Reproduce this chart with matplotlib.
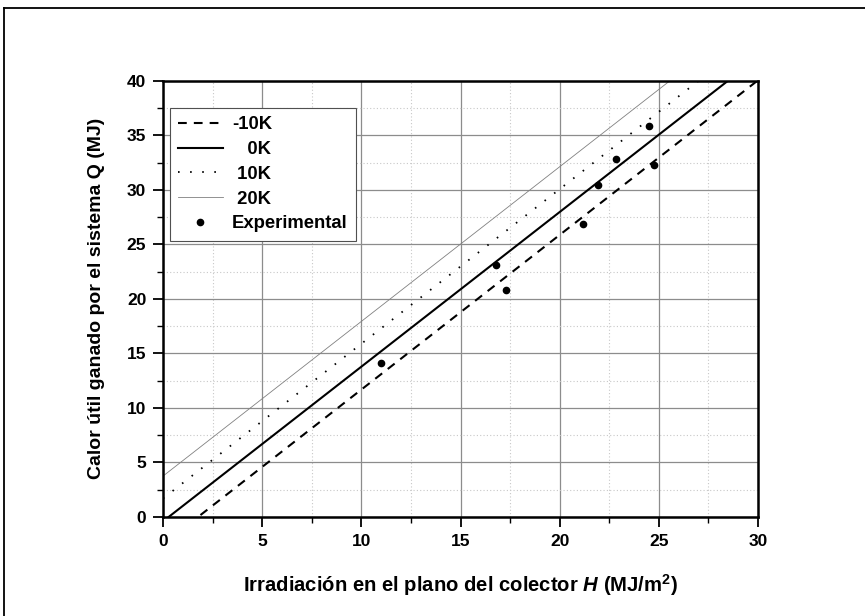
import matplotlib
matplotlib.use("Agg")
import matplotlib.pyplot as plt
import numpy as np
from matplotlib.lines import Line2D
from matplotlib.ticker import MultipleLocator

# ---------------- data ----------------
series_labels = ["-10K", "   0K", " 10K", " 20K"]
slope = 1.418
intercepts = [-2.5, -0.4, 1.7, 3.75]
H_range = [0, 30]

exp_H = [10.98, 16.79, 17.30, 21.17, 21.94, 22.86, 24.51, 24.78]
exp_Q = [14.09, 23.10, 20.80, 26.86, 30.40, 32.79, 35.84, 32.29]

x_ticks = [0, 5, 10, 15, 20, 25, 30]
y_ticks = [0, 5, 10, 15, 20, 25, 30, 35, 40]

# ---------------- style ----------------
plt.rcParams['font.family'] = ['Liberation Sans', 'DejaVu Sans']
plt.rcParams['mathtext.fontset'] = 'custom'
plt.rcParams['mathtext.rm'] = 'Liberation Sans:bold'
plt.rcParams['mathtext.it'] = 'Liberation Sans:italic:bold'
plt.rcParams['mathtext.bf'] = 'Liberation Sans:bold'

fig = plt.figure(figsize=(8.65, 6.16), dpi=100)
ax = fig.add_axes([163/865, 1-517/616, (758-163)/865, (517-80.7)/616])

# outer frame (only left and top visible)
fig.add_artist(Line2D([4/865, 4/865], [0, 1-8/616], transform=fig.transFigure, color='black', lw=1.3))
fig.add_artist(Line2D([4/865, 1], [1-8/616, 1-8/616], transform=fig.transFigure, color='black', lw=1.3))

styles = [
    dict(color='black', lw=1.5, linestyle=(0, (4.2, 3.4))),
    dict(color='black', lw=1.5, linestyle='-'),
    dict(color='black', lw=1.3, linestyle=(0, (0.9, 5.8))),
    dict(color='#808080', lw=0.6, linestyle='-'),
]
H = np.array(H_range, dtype=float)
for lab, b, st in zip(series_labels, intercepts, styles):
    ax.plot(H, slope * H + b, label=lab, **st)

ax.plot(exp_H, exp_Q, 'o', color='black', markersize=4.5, label='Experimental', linestyle='none')

ax.set_xlim(0, 30)
ax.set_ylim(0, 40)
ax.set_xticks(x_ticks)
ax.set_yticks(y_ticks)
ax.xaxis.set_minor_locator(MultipleLocator(2.5))
ax.yaxis.set_minor_locator(MultipleLocator(2.5))

ax.grid(which='major', color='#8c8c8c', lw=0.9, linestyle='-')
ax.grid(which='minor', color='#c8c8c8', lw=0.8, linestyle=(0, (1, 2)))
ax.set_axisbelow(True)

for sp in ax.spines.values():
    sp.set_linewidth(1.8)
ax.tick_params(which='major', direction='out', length=7, width=1.3, top=False, right=False, pad=5)
ax.tick_params(which='minor', direction='out', length=4, width=1.0, top=False, right=False)
for lbl in ax.get_xticklabels() + ax.get_yticklabels():
    lbl.set_fontweight('bold')
    lbl.set_fontsize(12.5)

ax.set_xlabel(r"Irradiación en el plano del colector $\mathit{H}$ (MJ/m$^{2}$)",
              fontweight='bold', fontsize=14.6, labelpad=17)
ax.set_ylabel("Calor útil ganado por el sistema Q (MJ)", fontweight='bold', fontsize=14, labelpad=16)

leg = ax.legend(loc='upper left', bbox_to_anchor=(-0.007, 0.963), frameon=True, fancybox=False,
                edgecolor='#505050', framealpha=1, handlelength=2.4, handletextpad=0.5,
                borderpad=0.45, borderaxespad=0.6, labelspacing=0.42,
                prop={'weight': 'bold', 'size': 13.3})
leg.get_frame().set_linewidth(0.8)

fig.savefig("out.png", dpi=100)
